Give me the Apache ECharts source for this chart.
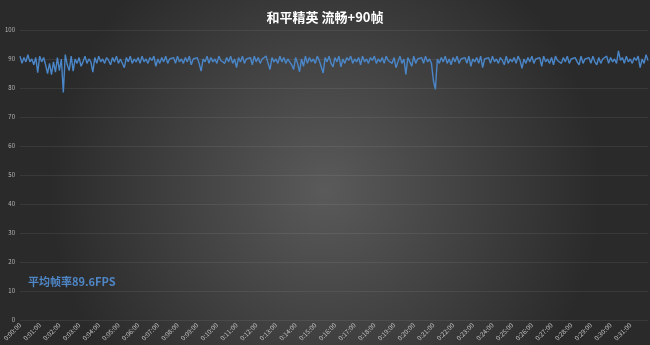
<!DOCTYPE html>
<html>
<head>
<meta charset="utf-8">
<script src="https://cdn.jsdelivr.net/npm/echarts@6/dist/echarts.min.js"></script>
<style>html,body{margin:0;padding:0;background:#2a2a2a;}#chart{width:650px;height:345px;}</style>
</head>
<body>
<div id="chart"></div>
<script>
// FPS sampled every 6 seconds
var stepSeconds = 6;
var fpsValues = [
91, 88.5, 90.5, 89, 91.5, 89, 90, 88, 90.5, 85.3, 91, 89, 90.5, 88, 85, 88.5, 84.6, 89, 85.5, 90.5,
86, 90, 78.5, 91.5, 88, 86, 91, 85.8, 90, 88.5, 90.5, 87.5, 89, 91, 88.5, 90, 89, 85.5, 90.5, 88.5,
91, 89, 90, 88.5, 90.5, 89.5, 88, 90.5, 89, 91, 88.5, 90, 89.5, 87, 90.5, 89, 91, 88.5, 90, 89,
90.5, 88.5, 91, 89, 90, 88.5, 90.5, 89.5, 91, 87.5, 90, 88.5, 90.5, 89, 91, 88.5, 90, 89.5, 90.5, 88.5,
91, 89, 90, 88.5, 90.5, 89, 91, 88, 90, 89.5, 90.5, 88.5, 85.8, 90, 89, 91, 88.5, 90.5, 89, 90,
88.5, 91, 89.5, 90, 88.5, 90.5, 89, 91, 88.5, 90, 87, 90.5, 89, 91, 88.5, 90, 89.5, 90.5, 88, 91,
89, 90.5, 88.5, 90, 89.5, 91, 88.5, 86.4, 90.5, 89, 90, 88.5, 91, 89, 90.5, 88.5, 90, 89.5, 88, 86.4,
90.5, 88.5, 85.6, 90, 87.5, 91, 88.5, 90.5, 89, 90, 88.5, 91, 89.5, 90, 85.2, 90.5, 89, 91, 88.5, 87.3,
90.5, 89, 91, 87.3, 90, 88.5, 90.5, 89.5, 91, 88.5, 90, 89, 90.5, 88, 91, 89, 90, 88.5, 90.5, 89.5,
91, 88.5, 90, 89, 90.5, 88.5, 91, 89.5, 90, 88.5, 90.5, 87, 89, 91, 88.5, 90, 84.7, 90.5, 89, 87.5,
91, 88.5, 90, 89.5, 90.5, 88.5, 91, 89, 90, 88.5, 82.5, 79.5, 90, 88.5, 90.5, 89, 91, 88.5, 90, 88,
90.5, 89, 91, 88.5, 90, 89.5, 90.5, 88.5, 91, 87.5, 90, 89, 90.5, 88.5, 91, 87, 90, 89.5, 90.5, 88.5,
91, 89, 90, 88.5, 90.5, 89.5, 88, 91, 88.5, 90, 89, 90.5, 88.5, 91, 89.5, 86.8, 90, 88.5, 90.5, 89,
91, 88.5, 90, 89.5, 90.5, 87.5, 91, 89, 90, 88.5, 90.5, 88, 91, 89.5, 90, 88.5, 90.5, 89, 91, 88.5,
90, 89.5, 90.5, 89, 88, 91, 88.5, 90, 89.5, 90.5, 88.5, 91, 89, 88, 90.5, 88.5, 90, 89.5, 91, 88.5,
90.5, 89, 90, 88.5, 92.8, 89.5, 90.5, 88.5, 91, 89, 90, 88.5, 90.5, 89.5, 91, 87, 90, 88.5, 91.5, 89.5
];
var yTicks = [0, 10, 20, 30, 40, 50, 60, 70, 80, 90, 100];
var titleText = '和平精英 流畅+90帧';
var avgText = '平均帧率89.6FPS';

function fmt(sec) {
  var h = Math.floor(sec / 3600), m = Math.floor((sec % 3600) / 60), s = sec % 60;
  return h + ':' + (m < 10 ? '0' : '') + m + ':' + (s < 10 ? '0' : '') + s;
}
var timeLabels = fpsValues.map(function (v, i) { return fmt(i * stepSeconds); });

var chart = echarts.init(document.getElementById('chart'));
var font = '"Noto Sans CJK SC", "Noto Sans", sans-serif';
chart.setOption({
  animation: false,
  backgroundColor: {
    type: 'radial', x: 0.5, y: 0.55, r: 0.8,
    colorStops: [{ offset: 0, color: '#5a5a5a' }, { offset: 1, color: '#2a2a2a' }]
  },
  textStyle: { fontFamily: font },
  title: {
    text: titleText, left: 'center', top: 6,
    textStyle: { color: '#ffffff', fontSize: 13, fontWeight: 'bold', fontFamily: font }
  },
  graphic: [{
    type: 'text', left: 28, top: 276,
    style: { text: avgText, fill: '#4f86c6', fontSize: 11, fontWeight: 'bold', fontFamily: font }
  }],
  grid: { left: 20, right: 2, top: 30, bottom: 25, containLabel: false },
  xAxis: {
    type: 'category', data: timeLabels, boundaryGap: false,
    axisLine: { show: false }, axisTick: { show: false },
    axisLabel: { interval: 9, rotate: 45, color: '#c0c0c0', fontSize: 6.5, margin: 4, fontFamily: font }
  },
  yAxis: {
    type: 'value', min: yTicks[0], max: yTicks[yTicks.length - 1], interval: 10,
    axisLine: { show: false }, axisTick: { show: false },
    axisLabel: { color: '#b8b8b8', fontSize: 6, margin: 5, fontFamily: font },
    splitLine: { lineStyle: { color: 'rgba(255,255,255,0.07)', width: 1 } }
  },
  series: [{
    type: 'line', data: fpsValues, symbol: 'none',
    lineStyle: { color: '#4a86c8', width: 1.4 }
  }]
});
</script>
</body>
</html>
